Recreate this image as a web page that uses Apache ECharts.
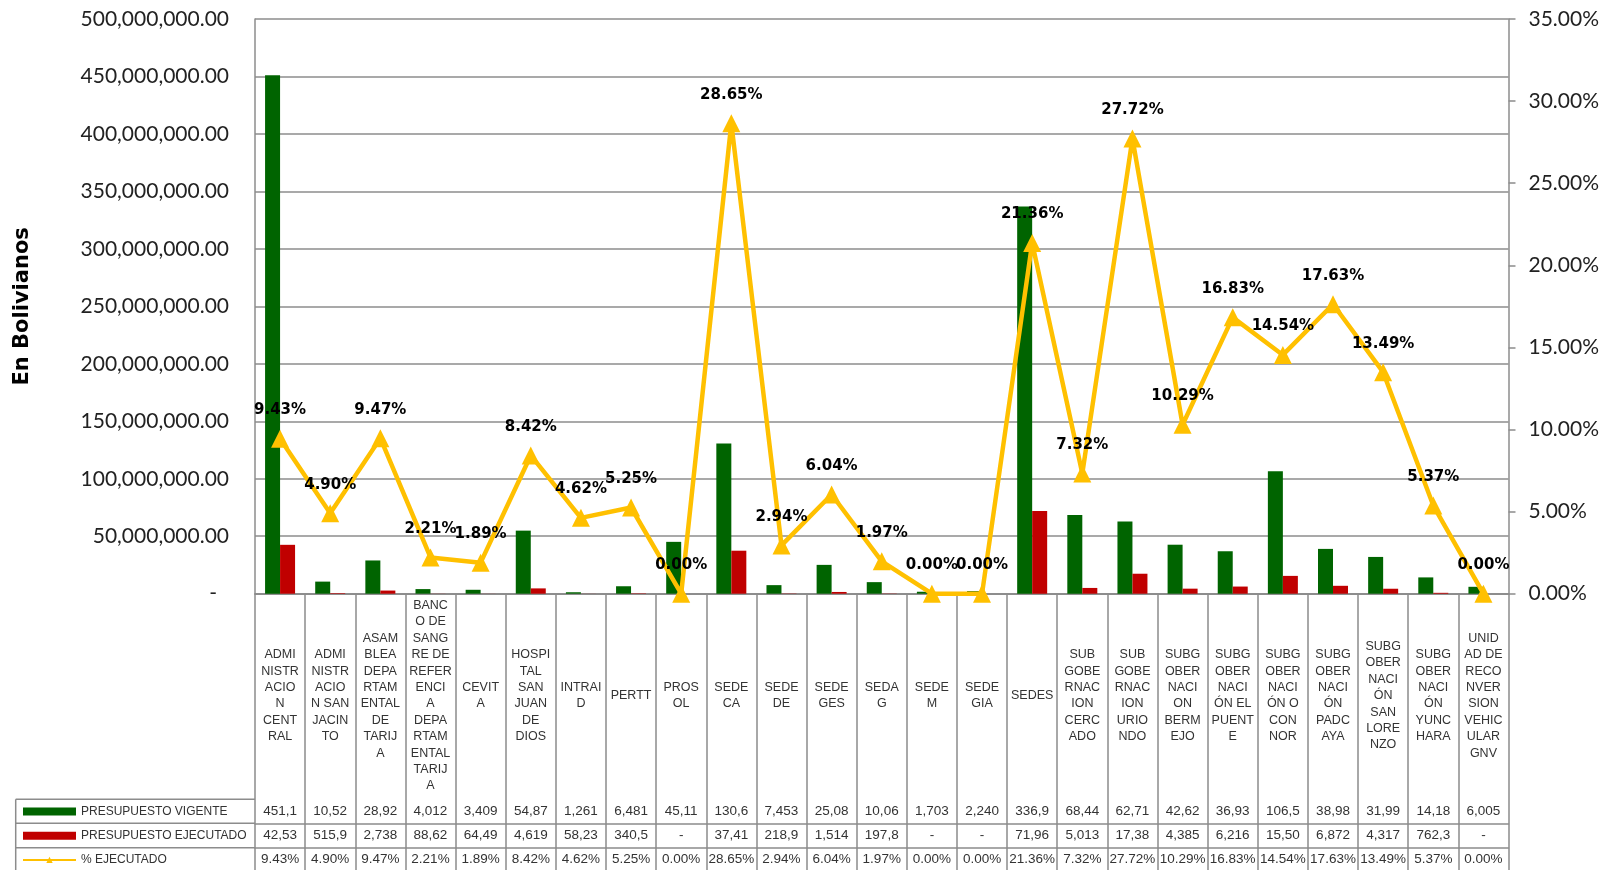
<!DOCTYPE html>
<html>
<head>
<meta charset="utf-8">
<script src="https://cdn.jsdelivr.net/npm/echarts@6/dist/echarts.min.js"></script>
<style>
    html, body { margin: 0; padding: 0; background: #fff; }
    #chart { width: 1610px; height: 870px; }
</style>
</head>
<body>
<div id="chart"></div>
<script>
// categorias (con los cortes de linea tal como salen en la tabla)
const categorias = [
    'ADMI\nNISTR\nACIO\nN\nCENT\nRAL',
    'ADMI\nNISTR\nACIO\nN SAN\nJACIN\nTO',
    'ASAM\nBLEA\nDEPA\nRTAM\nENTAL\nDE\nTARIJ\nA',
    'BANC\nO DE\nSANG\nRE DE\nREFER\nENCI\nA\nDEPA\nRTAM\nENTAL\nTARIJ\nA',
    'CEVIT\nA',
    'HOSPI\nTAL\nSAN\nJUAN\nDE\nDIOS',
    'INTRAI\nD',
    'PERTT',
    'PROS\nOL',
    'SEDE\nCA',
    'SEDE\nDE',
    'SEDE\nGES',
    'SEDA\nG',
    'SEDE\nM',
    'SEDE\nGIA',
    'SEDES',
    'SUB\nGOBE\nRNAC\nION\nCERC\nADO',
    'SUB\nGOBE\nRNAC\nION\nURIO\nNDO',
    'SUBG\nOBER\nNACI\nON\nBERM\nEJO',
    'SUBG\nOBER\nNACI\nÓN EL\nPUENT\nE',
    'SUBG\nOBER\nNACI\nÓN O\nCON\nNOR',
    'SUBG\nOBER\nNACI\nÓN\nPADC\nAYA',
    'SUBG\nOBER\nNACI\nÓN\nSAN\nLORE\nNZO',
    'SUBG\nOBER\nNACI\nÓN\nYUNC\nHARA',
    'UNID\nAD DE\nRECO\nNVER\nSION\nVEHIC\nULAR\nGNV'
];

const vigente = [
    451100000, 10520000, 28920000, 4012000, 3409000, 54870000, 1261000, 6481000,
    45110000, 130600000, 7453000, 25080000, 10060000, 1703000, 2240000, 336900000,
    68440000, 62710000, 42620000, 36930000, 106500000, 38980000, 31990000, 14180000, 6005000
];

const ejecutado = [
    42530000, 515900, 2738000, 88620, 64490, 4619000, 58230, 340500,
    0, 37410000, 218900, 1514000, 197800, 0, 0, 71960000,
    5013000, 17380000, 4385000, 6216000, 15500000, 6872000, 4317000, 762300, 0
];

const porcentaje = [
    9.43, 4.90, 9.47, 2.21, 1.89, 8.42, 4.62, 5.25, 0.00, 28.65, 2.94, 6.04, 1.97,
    0.00, 0.00, 21.36, 7.32, 27.72, 10.29, 16.83, 14.54, 17.63, 13.49, 5.37, 0.00
];

const nombres = ['PRESUPUESTO VIGENTE', 'PRESUPUESTO EJECUTADO', '% EJECUTADO'];

const gris = '#8c8c8c';
const texto = '#333333';

// la tabla de Excel corta los numeros a 5 caracteres
const corto = v => v === 0 ? '-' : v.toLocaleString('en-US').slice(0, 5);
const filaVig = vigente.map(corto);
const filaEje = ejecutado.map(corto);
const filaPct = porcentaje.map(v => v.toFixed(2) + '%');

// cada fila de la tabla es un eje de categorias desplazado hacia abajo
const ejeFila = (offset, data) => ({
    type: 'category',
    position: 'bottom',
    offset: offset,
    data: data,
    axisLine: { show: true, lineStyle: { color: gris, width: 1.5 } },
    axisTick: { show: false },
    axisLabel: {
        interval: 0,
        margin: 12,
        verticalAlign: 'middle',
        fontSize: 13.5,
        fontFamily: 'Liberation Sans',
        color: texto
    }
});

const chart = echarts.init(document.getElementById('chart'));

const option = {
    animation: false,
    grid: { left: 255, right: 101.5, top: 19, bottom: 276.3, outerBoundsMode: 'none', containLabel: false },
    legend: {
        data: [
            { name: nombres[0], icon: 'rect' },
            { name: nombres[1], icon: 'rect' },
            { name: nombres[2] }
        ],
        selectedMode: false,
        orient: 'vertical',
        left: 22,
        top: 803.5,
        padding: 0,
        itemWidth: 53,
        itemHeight: 8,
        itemGap: 8.2,
        textStyle: {
            fontSize: 12,
            lineHeight: 16,
            fontFamily: 'Liberation Sans',
            color: texto,
            padding: [0, 0, 0, 0]
        }
    },
    xAxis: [
        {
            type: 'category',
            data: categorias,
            axisLine: { show: true, lineStyle: { color: gris, width: 1.5 } },
            axisTick: { show: true, interval: 0, length: 280, lineStyle: { color: gris, width: 1.5 } },
            axisLabel: {
                interval: 0,
                margin: 102,
                verticalAlign: 'middle',
                align: 'center',
                fontSize: 12.5,
                lineHeight: 16.4,
                fontFamily: 'Liberation Sans',
                color: texto
            }
        },
        ejeFila(205.6, filaVig),
        ejeFila(229.6, filaEje),
        ejeFila(254, filaPct)
    ],
    yAxis: [
        {
            type: 'value',
            min: 0,
            max: 500000000,
            interval: 50000000,
            name: 'En Bolivianos',
            nameLocation: 'middle',
            nameRotate: 90,
            nameGap: 222,
            nameTextStyle: { fontSize: 21, fontWeight: 'bold', fontFamily: 'DejaVu Sans', color: '#000' },
            axisLine: { show: true, lineStyle: { color: gris, width: 1.5 } },
            axisTick: { show: false },
            splitLine: { show: true, lineStyle: { color: gris, width: 1.5 } },
            axisLabel: {
                margin: 26,
                fontSize: 21,
                fontFamily: 'Lato',
                color: '#222',
                formatter: function (v) {
                    if (v === 0) return '{z|-}';
                    return v.toLocaleString('en-US', { minimumFractionDigits: 2, maximumFractionDigits: 2 });
                },
                rich: { z: { fontSize: 21, fontFamily: 'Lato', color: '#222', padding: [0, 12, 0, 0] } }
            }
        },
        {
            type: 'value',
            min: 0,
            max: 35,
            interval: 5,
            position: 'right',
            axisLine: { show: true, lineStyle: { color: gris, width: 1.5 } },
            axisTick: { show: true, length: 7, lineStyle: { color: gris, width: 1.5 } },
            splitLine: { show: false },
            axisLabel: {
                margin: 20,
                fontSize: 21,
                fontFamily: 'Lato',
                color: '#222',
                formatter: function (v) { return v.toFixed(2) + '%'; }
            }
        }
    ],
    series: [
        {
            name: nombres[0],
            type: 'bar',
            data: vigente,
            barWidth: 15,
            barGap: '0%',
            itemStyle: { color: '#006400' }
        },
        {
            name: nombres[1],
            type: 'bar',
            data: ejecutado,
            barWidth: 15,
            itemStyle: { color: '#C00000' }
        },
        {
            name: nombres[2],
            type: 'line',
            yAxisIndex: 1,
            data: porcentaje,
            symbol: 'triangle',
            symbolSize: 18,
            itemStyle: { color: '#FFC000' },
            lineStyle: { color: '#FFC000', width: 4.5 },
            z: 5,
            label: {
                show: true,
                position: 'top',
                distance: 12,
                fontSize: 15,
                fontWeight: 'bold',
                fontFamily: 'DejaVu Sans',
                color: '#000',
                formatter: p => p.value.toFixed(2) + '%'
            }
        }
    ],
    // marco de la columna de leyenda de la tabla
    graphic: [
        { type: 'line', shape: { x1: 15.7, y1: 799.3, x2: 255, y2: 799.3 }, style: { stroke: gris, lineWidth: 1.5 } },
        { type: 'line', shape: { x1: 15.7, y1: 823.3, x2: 255, y2: 823.3 }, style: { stroke: gris, lineWidth: 1.5 } },
        { type: 'line', shape: { x1: 15.7, y1: 847.7, x2: 255, y2: 847.7 }, style: { stroke: gris, lineWidth: 1.5 } },
        { type: 'line', shape: { x1: 15.7, y1: 799.3, x2: 15.7, y2: 870 }, style: { stroke: gris, lineWidth: 1.5 } }
    ]
};

chart.setOption(option);
</script>
</body>
</html>
